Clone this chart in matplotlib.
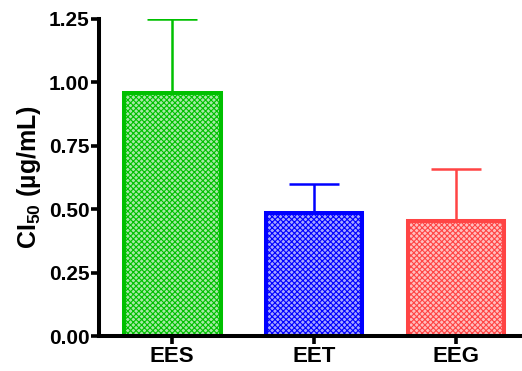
import matplotlib.pyplot as plt
from matplotlib.colors import to_rgb

plt.rcParams['font.family'] = ['Liberation Sans', 'DejaVu Sans']
plt.rcParams['font.weight'] = 'bold'
plt.rcParams['hatch.linewidth'] = 0.8

groups = ['EES', 'EET', 'EEG']
means = [0.96, 0.485, 0.455]
errs = [0.29, 0.115, 0.205]
colors = ['#00C000', '#0000FF', '#FF4444']
yticks = [0.00, 0.25, 0.50, 0.75, 1.00, 1.25]


def tint(c, f):
    r, g, b = to_rgb(c)
    return (1 - f + f * r, 1 - f + f * g, 1 - f + f * b)


fig = plt.figure(figsize=(5.22, 3.71), dpi=100)
ax = fig.add_axes([0.19, 0.094, 0.806, 0.855])

x = range(len(groups))
for i in x:
    ax.bar(i, means[i], width=0.68, facecolor=tint(colors[i], 0.35),
           edgecolor=colors[i], linewidth=2.9, hatch='xxxxxx', zorder=2)
    ax.errorbar(i, means[i], yerr=[[0], [errs[i]]], color=colors[i],
                capsize=18, capthick=1.8, elinewidth=1.8, zorder=1)

ax.set_xlim(-0.515, 2.45)
ax.set_ylim(0, 1.25)
ax.set_xticks(list(x))
ax.set_xticklabels(groups, fontsize=16)
ax.set_yticks(yticks)
ax.set_yticklabels([f'{v:.2f}' for v in yticks], fontsize=15)

for s in ['top', 'right']:
    ax.spines[s].set_visible(False)
for s in ['left', 'bottom']:
    ax.spines[s].set_linewidth(2.9)
ax.tick_params(width=2.6, length=6, pad=1)
ax.set_ylabel(r'CI$_{\mathregular{50}}$ (µg/mL)', fontsize=18, fontweight='bold', labelpad=4)

fig.savefig('out.png', dpi=100)
